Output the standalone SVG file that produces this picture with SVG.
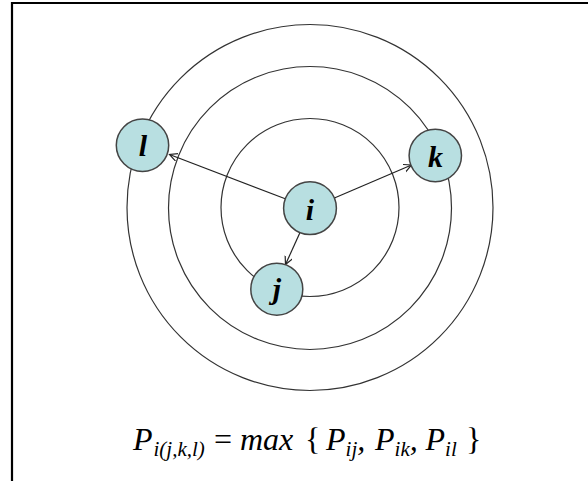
<svg xmlns="http://www.w3.org/2000/svg" width="588" height="481" viewBox="0 0 588 481">
<style>
.ring{fill:none;stroke:#333;stroke-width:1.2}
.node{fill:#b8dfe1;stroke:#444;stroke-width:1.5}
.lbl{font-family:"Liberation Serif","Times New Roman",serif;font-style:italic;font-weight:bold;font-size:30px;text-anchor:middle;fill:#000}
.edge{stroke:#222;stroke-width:1.2;fill:none}
.f{font-family:"Liberation Serif","Times New Roman",serif;font-size:32px;fill:#000}
.it{font-style:italic}
.sub{font-size:21px;font-style:italic}
</style>
<defs>
<marker id="ah" markerUnits="userSpaceOnUse" markerWidth="12" markerHeight="10" refX="8" refY="4" orient="auto">
<path d="M0,0 L8,4 L0,8" fill="none" stroke="#222" stroke-width="1.2"/>
</marker>
</defs>
<rect width="588" height="481" fill="#fff"/>
<g id="frame">
<line x1="11" y1="3" x2="588" y2="3" stroke="#000" stroke-width="2.2"/>
<line x1="12" y1="2" x2="12" y2="481" stroke="#000" stroke-width="2.2"/>
</g>
<g id="rings">
<circle class="ring" cx="310" cy="207.5" r="183"/>
<circle class="ring" cx="310" cy="208" r="141.5"/>
<circle class="ring" cx="310" cy="207.5" r="89"/>
</g>
<g id="connectors">
<line class="edge" x1="285.2" y1="198.7" x2="169.5" y2="154.5" marker-end="url(#ah)"/>
<line class="edge" x1="334.4" y1="198" x2="411.5" y2="165" marker-end="url(#ah)"/>
<line class="edge" x1="300" y1="232.5" x2="285.5" y2="264.5" marker-end="url(#ah)"/>
</g>
<g id="node-l"><circle class="node" cx="142.5" cy="145.3" r="26.2"/><text class="lbl" x="143" y="156">l</text></g>
<g id="node-k"><circle class="node" cx="435.3" cy="155.5" r="26.2"/><text class="lbl" x="435.5" y="166.5">k</text></g>
<g id="node-i"><circle class="node" cx="310" cy="208.2" r="26.4"/><text class="lbl" x="310" y="220">i</text></g>
<g id="node-j"><circle class="node" cx="276.8" cy="289.2" r="26"/><text class="lbl" x="277" y="299">j</text></g>
<g id="formula">
<text class="f" y="450"><tspan x="133" class="it">P</tspan><tspan x="153.5" dy="6" class="sub">i(j,k,l)</tspan><tspan x="214" dy="-6">=</tspan><tspan x="240" class="it">max</tspan><tspan x="305">{</tspan><tspan x="326" class="it">P</tspan><tspan dy="6" class="sub">ij</tspan><tspan dy="-6" class="it">,</tspan><tspan x="375" class="it">P</tspan><tspan dy="6" class="sub">ik</tspan><tspan dy="-6" class="it">,</tspan><tspan x="425.5" class="it">P</tspan><tspan dy="6" class="sub">il</tspan><tspan x="466" dy="-6">}</tspan></text>
</g>
</svg>
